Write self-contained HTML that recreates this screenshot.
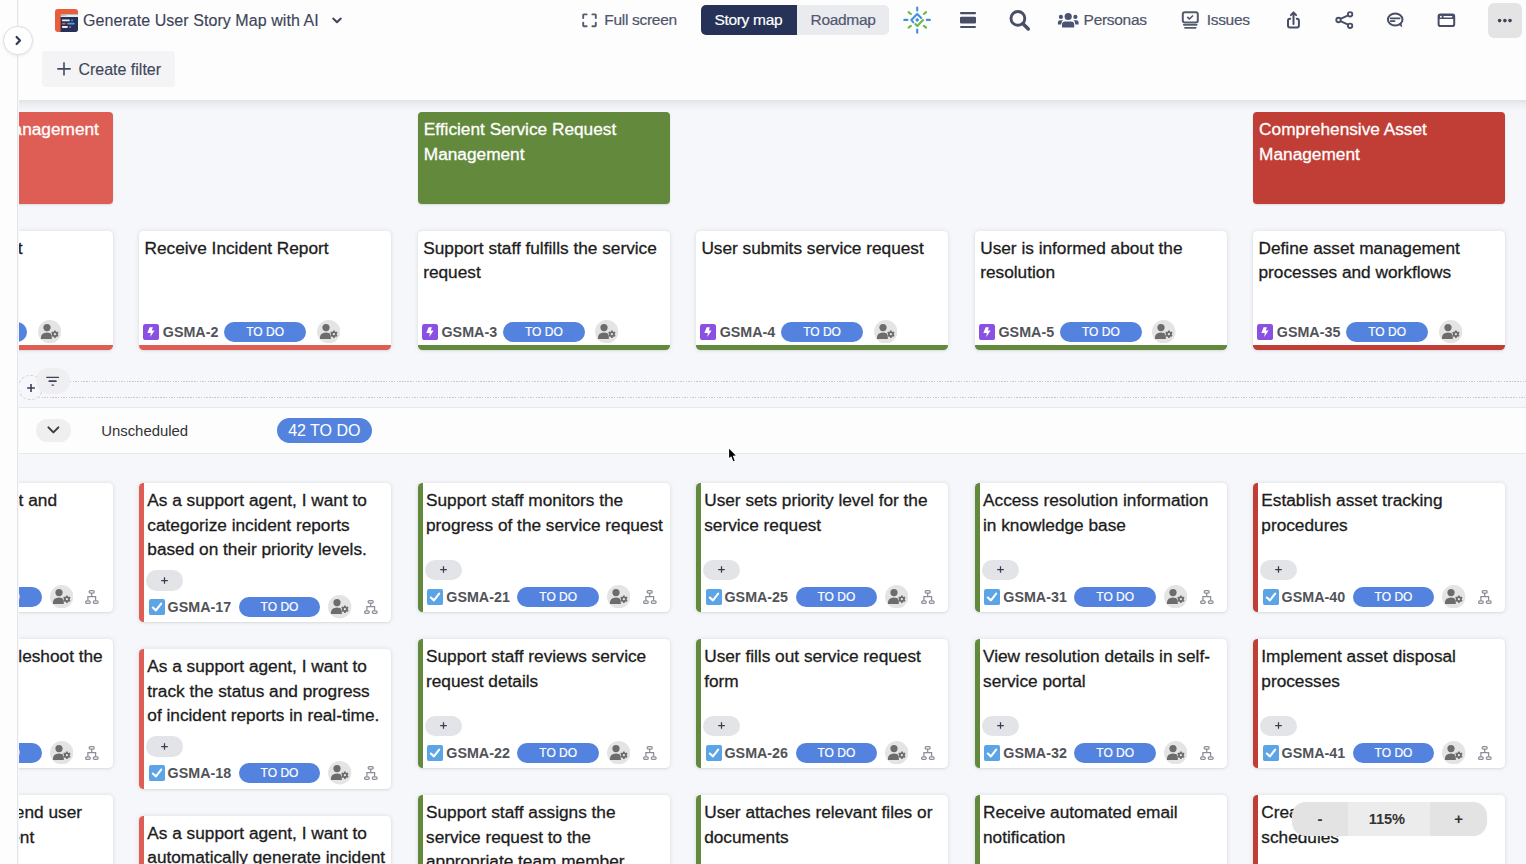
<!DOCTYPE html>
<html lang="en"><head><meta charset="utf-8"><title>Generate User Story Map with AI</title>
<style>
*{box-sizing:border-box;margin:0;padding:0}
html,body{width:1526px;height:864px;overflow:hidden}
body{position:relative;background:#f6f7fb;font-family:"Liberation Sans",Arial,Helvetica,sans-serif;color:#1c1c1c}
.ft,.st,.epic{-webkit-text-stroke:0.3px currentColor}
.todo,.tb{-webkit-text-stroke:0.2px currentColor}
.a{position:absolute}
#board{position:absolute;left:0;top:0;width:1526px;height:864px;clip-path:inset(100px 0 0 19px)}
.epic{position:absolute;top:111.5px;width:251.8px;height:92px;border-radius:4px;color:#fff;font-size:17.25px;line-height:24.6px;padding:5.8px 6px 0 5.8px;box-shadow:0 1px 2px rgba(0,0,0,.12)}
.feat{position:absolute;top:230.7px;width:251.8px;height:119px;background:#fff;border-radius:4.6px;border-bottom:5px solid;box-shadow:0 0 5px rgba(0,0,0,.11),0 1px 2px rgba(0,0,0,.06)}
.ft{position:absolute;left:5.2px;top:5.2px;right:6px;font-size:17.25px;line-height:24.5px;color:#1c1c1c}
.ff{position:absolute;left:4.1px;top:89.2px;height:23.4px;display:flex;align-items:center;white-space:nowrap}
.ff .bo{display:block;flex:none}
.gid{font-weight:bold;font-size:14.3px;color:#525359;letter-spacing:0}
.ff .gid{margin-left:3.3px}
.todo{display:inline-block;background:#5383de;color:#fff;font-size:12px;height:20px;line-height:20px;width:81.5px;text-align:center;border-radius:10px}
.ff .todo{margin-left:6px}
.ff .av{margin-left:10.8px;display:block;flex:none}
.story{position:absolute;width:251.8px;background:#fff;border-radius:4.6px;border-left:5px solid;box-shadow:0 0 5px rgba(0,0,0,.11),0 1px 2px rgba(0,0,0,.06);padding:5.2px 0 3.8px 0}
.st{position:relative;padding-left:3px;padding-right:5px;min-height:63.2px;font-size:17.25px;line-height:24.5px;color:#1c1c1c}
.plus{margin:8.3px 0 0 2.2px;width:37px;height:20.6px;border-radius:10.3px;background:#e3e4e8;position:relative}
.plus span{position:absolute;left:15.2px;top:7px;width:6.6px;height:6.6px}
.plus span:before{content:"";position:absolute;left:0;top:2.75px;width:6.6px;height:1.15px;background:#3a3e54}
.plus span:after{content:"";position:absolute;left:2.75px;top:0;width:1.15px;height:6.6px;background:#3a3e54}
.sf{margin-top:4.6px;height:23.4px;display:flex;align-items:center;white-space:nowrap;padding-left:4.4px}
.sf .cb{display:block;flex:none}
.sf .gid{margin-left:2.8px}
.sf .todo{margin-left:7.6px}
.sf .av{margin-left:7.9px;display:block;flex:none}
.sf .hi{margin-left:12.4px;display:block;flex:none}
#strip{position:absolute;left:0;top:0;width:18px;height:864px;background:#fdfdfd;border-right:1.5px solid #e4e5e9}
#hdr{position:absolute;left:19px;top:0;width:1507px;height:100px;background:#fdfdfd}
#hsh{position:absolute;left:19px;top:100px;width:1507px;height:11px;background:linear-gradient(rgba(0,0,0,.085),rgba(0,0,0,.04) 35%,rgba(0,0,0,0))}
.dot{height:1.2px;background:repeating-linear-gradient(90deg,#c6c8ce 0 1.4px,transparent 1.4px 2.7px)}
.tb{position:absolute;font-size:15.5px;letter-spacing:-0.3px;color:#4f5669;white-space:nowrap}
</style></head><body>
<div id="board">
<div class="a" style="left:0;top:407px;width:1526px;height:1px;background:#e7e8ec"></div>
<div class="a" style="left:0;top:408px;width:1526px;height:45px;background:#fdfdfe"></div>
<div class="a" style="left:0;top:453px;width:1526px;height:1px;background:#e7e8ec"></div>
<div class="a dot" style="left:70px;top:381.3px;width:1460px"></div>
<div class="a dot" style="left:39px;top:396.5px;width:1490px"></div>
<div class="a" style="left:18.3px;top:375.3px;width:25px;height:25px;border-radius:50%;border:1px dashed #cfd1d6"></div>
<svg class="a" style="left:25.8px;top:382.8px" width="10" height="10" viewBox="0 0 10 10"><path d="M5 1.1 V8.9 M1.1 5 H8.9" stroke="#3a3f58" stroke-width="1.6"/></svg>
<div class="a" style="left:36.4px;top:368.2px;width:33.8px;height:25.8px;border-radius:13px;background:#efeff1"></div>
<svg class="a" style="left:45px;top:375px" width="16" height="12" viewBox="0 0 16 12"><path d="M1.8 2.4 H13.4" stroke="#3d4259" stroke-width="1.4" stroke-linecap="round"/><path d="M4.3 6.2 H10.9" stroke="#3d4259" stroke-width="1.7" stroke-linecap="round"/><path d="M7 10.1 H8.5" stroke="#3d4259" stroke-width="1.4" stroke-linecap="round"/></svg>
<div class="a" style="left:35.8px;top:418.7px;width:35px;height:23.7px;border-radius:12px;background:#efeff0"></div>
<svg class="a" style="left:46px;top:424px" width="15" height="13" viewBox="0 0 15 13"><path d="M2.4 3.4 L7.4 8.4 L12.4 3.4" fill="none" stroke="#3a3b40" stroke-width="2" stroke-linecap="round" stroke-linejoin="round"/></svg>
<div class="a" style="left:101.2px;top:421.6px;font-size:14.9px;line-height:18px;color:#333;white-space:nowrap">Unscheduled</div>
<div class="a" style="left:276.5px;top:417.9px;width:95.6px;height:25px;border-radius:12.5px;background:#5383de;color:#fff;font-size:16px;line-height:25px;text-align:center;white-space:nowrap">42 TO DO</div>
<div class="epic" style="left:-139.3px;background:#de5e55"><span class="a" style="right:13.6px;top:5.8px;white-space:nowrap">Effective Incident Management</span></div>
<div class="epic" style="left:418px;background:#63893d">Efficient Service Request Management</div>
<div class="epic" style="left:1253.3px;background:#c13e36">Comprehensive Asset Management</div>
<div class="feat" style="left:-139.3px;border-bottom-color:#de5e55"><div class="ft"><span class="a" style="right:84px;top:0;white-space:nowrap">Report incident</span></div><div class="ff"><svg class="bo" viewBox="0 0 16 16" width="16.1" height="16.1"><rect width="16" height="16" rx="2.4" fill="#8a50e2"/><path d="M6.6 3.2 L9.8 3.2 L8.8 6.5 L11.5 6.5 L7.2 13 L7.8 9 L4.3 9 Z" fill="#fff"/></svg><span class="gid">GSMA-1</span><span class="todo">TO DO</span><svg class="av" viewBox="0 0 23.4 23.4" width="23.4" height="23.4"><circle cx="11.7" cy="11.7" r="11.7" fill="#e4e4e4"/><circle cx="9" cy="7.6" r="3.6" fill="#6c6c6c"/><path d="M2.8 19 Q2.8 12.6 9 12.6 Q12.2 12.6 13.8 14.2 L13.8 19 Z" fill="#6c6c6c"/><g transform="translate(16.9 14.3)"><circle r="3.6" fill="#e4e4e4"/><path d="M-0.9 -3.9 L0.9 -3.9 L1.1 -2.7 L2.3 -2.0 L3.4 -2.5 L4.3 -0.9 L3.4 -0.1 L3.4 1.3 L4.3 2.1 L3.4 3.6 L2.3 3.2 L1.1 3.9 L0.9 5.0 L-0.9 5.0 L-1.1 3.9 L-2.3 3.2 L-3.4 3.6 L-4.3 2.1 L-3.4 1.3 L-3.4 -0.1 L-4.3 -0.9 L-3.4 -2.5 L-2.3 -2.0 L-1.1 -2.7 Z" transform="translate(0 -0.55) scale(0.85)" fill="#6c6c6c"/><circle cy="-0.1" r="1.1" fill="#e4e4e4"/></g></svg></div></div>
<div class="feat" style="left:139.3px;border-bottom-color:#de5e55"><div class="ft">Receive Incident Report</div><div class="ff"><svg class="bo" viewBox="0 0 16 16" width="16.1" height="16.1"><rect width="16" height="16" rx="2.4" fill="#8a50e2"/><path d="M6.6 3.2 L9.8 3.2 L8.8 6.5 L11.5 6.5 L7.2 13 L7.8 9 L4.3 9 Z" fill="#fff"/></svg><span class="gid">GSMA-2</span><span class="todo">TO DO</span><svg class="av" viewBox="0 0 23.4 23.4" width="23.4" height="23.4"><circle cx="11.7" cy="11.7" r="11.7" fill="#e4e4e4"/><circle cx="9" cy="7.6" r="3.6" fill="#6c6c6c"/><path d="M2.8 19 Q2.8 12.6 9 12.6 Q12.2 12.6 13.8 14.2 L13.8 19 Z" fill="#6c6c6c"/><g transform="translate(16.9 14.3)"><circle r="3.6" fill="#e4e4e4"/><path d="M-0.9 -3.9 L0.9 -3.9 L1.1 -2.7 L2.3 -2.0 L3.4 -2.5 L4.3 -0.9 L3.4 -0.1 L3.4 1.3 L4.3 2.1 L3.4 3.6 L2.3 3.2 L1.1 3.9 L0.9 5.0 L-0.9 5.0 L-1.1 3.9 L-2.3 3.2 L-3.4 3.6 L-4.3 2.1 L-3.4 1.3 L-3.4 -0.1 L-4.3 -0.9 L-3.4 -2.5 L-2.3 -2.0 L-1.1 -2.7 Z" transform="translate(0 -0.55) scale(0.85)" fill="#6c6c6c"/><circle cy="-0.1" r="1.1" fill="#e4e4e4"/></g></svg></div></div>
<div class="feat" style="left:418px;border-bottom-color:#63893d"><div class="ft">Support staff fulfills the service request</div><div class="ff"><svg class="bo" viewBox="0 0 16 16" width="16.1" height="16.1"><rect width="16" height="16" rx="2.4" fill="#8a50e2"/><path d="M6.6 3.2 L9.8 3.2 L8.8 6.5 L11.5 6.5 L7.2 13 L7.8 9 L4.3 9 Z" fill="#fff"/></svg><span class="gid">GSMA-3</span><span class="todo">TO DO</span><svg class="av" viewBox="0 0 23.4 23.4" width="23.4" height="23.4"><circle cx="11.7" cy="11.7" r="11.7" fill="#e4e4e4"/><circle cx="9" cy="7.6" r="3.6" fill="#6c6c6c"/><path d="M2.8 19 Q2.8 12.6 9 12.6 Q12.2 12.6 13.8 14.2 L13.8 19 Z" fill="#6c6c6c"/><g transform="translate(16.9 14.3)"><circle r="3.6" fill="#e4e4e4"/><path d="M-0.9 -3.9 L0.9 -3.9 L1.1 -2.7 L2.3 -2.0 L3.4 -2.5 L4.3 -0.9 L3.4 -0.1 L3.4 1.3 L4.3 2.1 L3.4 3.6 L2.3 3.2 L1.1 3.9 L0.9 5.0 L-0.9 5.0 L-1.1 3.9 L-2.3 3.2 L-3.4 3.6 L-4.3 2.1 L-3.4 1.3 L-3.4 -0.1 L-4.3 -0.9 L-3.4 -2.5 L-2.3 -2.0 L-1.1 -2.7 Z" transform="translate(0 -0.55) scale(0.85)" fill="#6c6c6c"/><circle cy="-0.1" r="1.1" fill="#e4e4e4"/></g></svg></div></div>
<div class="feat" style="left:696.2px;border-bottom-color:#63893d"><div class="ft">User submits service request</div><div class="ff"><svg class="bo" viewBox="0 0 16 16" width="16.1" height="16.1"><rect width="16" height="16" rx="2.4" fill="#8a50e2"/><path d="M6.6 3.2 L9.8 3.2 L8.8 6.5 L11.5 6.5 L7.2 13 L7.8 9 L4.3 9 Z" fill="#fff"/></svg><span class="gid">GSMA-4</span><span class="todo">TO DO</span><svg class="av" viewBox="0 0 23.4 23.4" width="23.4" height="23.4"><circle cx="11.7" cy="11.7" r="11.7" fill="#e4e4e4"/><circle cx="9" cy="7.6" r="3.6" fill="#6c6c6c"/><path d="M2.8 19 Q2.8 12.6 9 12.6 Q12.2 12.6 13.8 14.2 L13.8 19 Z" fill="#6c6c6c"/><g transform="translate(16.9 14.3)"><circle r="3.6" fill="#e4e4e4"/><path d="M-0.9 -3.9 L0.9 -3.9 L1.1 -2.7 L2.3 -2.0 L3.4 -2.5 L4.3 -0.9 L3.4 -0.1 L3.4 1.3 L4.3 2.1 L3.4 3.6 L2.3 3.2 L1.1 3.9 L0.9 5.0 L-0.9 5.0 L-1.1 3.9 L-2.3 3.2 L-3.4 3.6 L-4.3 2.1 L-3.4 1.3 L-3.4 -0.1 L-4.3 -0.9 L-3.4 -2.5 L-2.3 -2.0 L-1.1 -2.7 Z" transform="translate(0 -0.55) scale(0.85)" fill="#6c6c6c"/><circle cy="-0.1" r="1.1" fill="#e4e4e4"/></g></svg></div></div>
<div class="feat" style="left:975px;border-bottom-color:#63893d"><div class="ft">User is informed about the resolution</div><div class="ff"><svg class="bo" viewBox="0 0 16 16" width="16.1" height="16.1"><rect width="16" height="16" rx="2.4" fill="#8a50e2"/><path d="M6.6 3.2 L9.8 3.2 L8.8 6.5 L11.5 6.5 L7.2 13 L7.8 9 L4.3 9 Z" fill="#fff"/></svg><span class="gid">GSMA-5</span><span class="todo">TO DO</span><svg class="av" viewBox="0 0 23.4 23.4" width="23.4" height="23.4"><circle cx="11.7" cy="11.7" r="11.7" fill="#e4e4e4"/><circle cx="9" cy="7.6" r="3.6" fill="#6c6c6c"/><path d="M2.8 19 Q2.8 12.6 9 12.6 Q12.2 12.6 13.8 14.2 L13.8 19 Z" fill="#6c6c6c"/><g transform="translate(16.9 14.3)"><circle r="3.6" fill="#e4e4e4"/><path d="M-0.9 -3.9 L0.9 -3.9 L1.1 -2.7 L2.3 -2.0 L3.4 -2.5 L4.3 -0.9 L3.4 -0.1 L3.4 1.3 L4.3 2.1 L3.4 3.6 L2.3 3.2 L1.1 3.9 L0.9 5.0 L-0.9 5.0 L-1.1 3.9 L-2.3 3.2 L-3.4 3.6 L-4.3 2.1 L-3.4 1.3 L-3.4 -0.1 L-4.3 -0.9 L-3.4 -2.5 L-2.3 -2.0 L-1.1 -2.7 Z" transform="translate(0 -0.55) scale(0.85)" fill="#6c6c6c"/><circle cy="-0.1" r="1.1" fill="#e4e4e4"/></g></svg></div></div>
<div class="feat" style="left:1253.3px;border-bottom-color:#c13e36"><div class="ft">Define asset management processes and workflows</div><div class="ff"><svg class="bo" viewBox="0 0 16 16" width="16.1" height="16.1"><rect width="16" height="16" rx="2.4" fill="#8a50e2"/><path d="M6.6 3.2 L9.8 3.2 L8.8 6.5 L11.5 6.5 L7.2 13 L7.8 9 L4.3 9 Z" fill="#fff"/></svg><span class="gid">GSMA-35</span><span class="todo">TO DO</span><svg class="av" viewBox="0 0 23.4 23.4" width="23.4" height="23.4"><circle cx="11.7" cy="11.7" r="11.7" fill="#e4e4e4"/><circle cx="9" cy="7.6" r="3.6" fill="#6c6c6c"/><path d="M2.8 19 Q2.8 12.6 9 12.6 Q12.2 12.6 13.8 14.2 L13.8 19 Z" fill="#6c6c6c"/><g transform="translate(16.9 14.3)"><circle r="3.6" fill="#e4e4e4"/><path d="M-0.9 -3.9 L0.9 -3.9 L1.1 -2.7 L2.3 -2.0 L3.4 -2.5 L4.3 -0.9 L3.4 -0.1 L3.4 1.3 L4.3 2.1 L3.4 3.6 L2.3 3.2 L1.1 3.9 L0.9 5.0 L-0.9 5.0 L-1.1 3.9 L-2.3 3.2 L-3.4 3.6 L-4.3 2.1 L-3.4 1.3 L-3.4 -0.1 L-4.3 -0.9 L-3.4 -2.5 L-2.3 -2.0 L-1.1 -2.7 Z" transform="translate(0 -0.55) scale(0.85)" fill="#6c6c6c"/><circle cy="-0.1" r="1.1" fill="#e4e4e4"/></g></svg></div></div>
<div class="story" style="left:-139.3px;top:483.0px;border-left-color:#de5e55"><div class="st"><span class="a" style="right:55.5px;top:0;white-space:nowrap">Submit incident report and</span></div><div class="plus"><svg class="a" style="left:14.6px;top:6.8px" width="7" height="7" viewBox="0 0 7 7"><path d="M3.5 0.2 V6.8 M0.2 3.5 H6.8" stroke="#383c52" stroke-width="1.25"/></svg></div><div class="sf"><svg class="cb" viewBox="0 0 16 16" width="16.1" height="16.1"><rect width="16" height="16" rx="2.2" fill="#5ba4e6"/><path d="M3.8 8.5 L6.9 11.3 L12.1 4.6" fill="none" stroke="#fff" stroke-width="2.1" stroke-linecap="round" stroke-linejoin="round"/></svg><span class="gid">GSMA-14</span><span class="todo">TO DO</span><svg class="av" viewBox="0 0 23.4 23.4" width="23.4" height="23.4"><circle cx="11.7" cy="11.7" r="11.7" fill="#e4e4e4"/><circle cx="9" cy="7.6" r="3.6" fill="#6c6c6c"/><path d="M2.8 19 Q2.8 12.6 9 12.6 Q12.2 12.6 13.8 14.2 L13.8 19 Z" fill="#6c6c6c"/><g transform="translate(16.9 14.3)"><circle r="3.6" fill="#e4e4e4"/><path d="M-0.9 -3.9 L0.9 -3.9 L1.1 -2.7 L2.3 -2.0 L3.4 -2.5 L4.3 -0.9 L3.4 -0.1 L3.4 1.3 L4.3 2.1 L3.4 3.6 L2.3 3.2 L1.1 3.9 L0.9 5.0 L-0.9 5.0 L-1.1 3.9 L-2.3 3.2 L-3.4 3.6 L-4.3 2.1 L-3.4 1.3 L-3.4 -0.1 L-4.3 -0.9 L-3.4 -2.5 L-2.3 -2.0 L-1.1 -2.7 Z" transform="translate(0 -0.55) scale(0.85)" fill="#6c6c6c"/><circle cy="-0.1" r="1.1" fill="#e4e4e4"/></g></svg><svg class="hi" viewBox="0 0 14 14" width="14" height="14"><g fill="none" stroke="#8b8e98" stroke-width="1.25"><rect x="4.2" y="0.65" width="5" height="2.4" rx="1.1"/><path d="M6.7 3.05 V6.6 M2.9 10.6 V6.6 H10.6 V10.6"/><rect x="0.65" y="10.95" width="4.6" height="2.4" rx="1.1"/><rect x="8.3" y="10.95" width="4.8" height="2.4" rx="1.1"/></g></svg></div></div>
<div class="story" style="left:-139.3px;top:639.0px;border-left-color:#de5e55"><div class="st"><span class="a" style="right:9.8px;top:0;white-space:nowrap">Help user troubleshoot the</span></div><div class="plus"><svg class="a" style="left:14.6px;top:6.8px" width="7" height="7" viewBox="0 0 7 7"><path d="M3.5 0.2 V6.8 M0.2 3.5 H6.8" stroke="#383c52" stroke-width="1.25"/></svg></div><div class="sf"><svg class="cb" viewBox="0 0 16 16" width="16.1" height="16.1"><rect width="16" height="16" rx="2.2" fill="#5ba4e6"/><path d="M3.8 8.5 L6.9 11.3 L12.1 4.6" fill="none" stroke="#fff" stroke-width="2.1" stroke-linecap="round" stroke-linejoin="round"/></svg><span class="gid">GSMA-15</span><span class="todo">TO DO</span><svg class="av" viewBox="0 0 23.4 23.4" width="23.4" height="23.4"><circle cx="11.7" cy="11.7" r="11.7" fill="#e4e4e4"/><circle cx="9" cy="7.6" r="3.6" fill="#6c6c6c"/><path d="M2.8 19 Q2.8 12.6 9 12.6 Q12.2 12.6 13.8 14.2 L13.8 19 Z" fill="#6c6c6c"/><g transform="translate(16.9 14.3)"><circle r="3.6" fill="#e4e4e4"/><path d="M-0.9 -3.9 L0.9 -3.9 L1.1 -2.7 L2.3 -2.0 L3.4 -2.5 L4.3 -0.9 L3.4 -0.1 L3.4 1.3 L4.3 2.1 L3.4 3.6 L2.3 3.2 L1.1 3.9 L0.9 5.0 L-0.9 5.0 L-1.1 3.9 L-2.3 3.2 L-3.4 3.6 L-4.3 2.1 L-3.4 1.3 L-3.4 -0.1 L-4.3 -0.9 L-3.4 -2.5 L-2.3 -2.0 L-1.1 -2.7 Z" transform="translate(0 -0.55) scale(0.85)" fill="#6c6c6c"/><circle cy="-0.1" r="1.1" fill="#e4e4e4"/></g></svg><svg class="hi" viewBox="0 0 14 14" width="14" height="14"><g fill="none" stroke="#8b8e98" stroke-width="1.25"><rect x="4.2" y="0.65" width="5" height="2.4" rx="1.1"/><path d="M6.7 3.05 V6.6 M2.9 10.6 V6.6 H10.6 V10.6"/><rect x="0.65" y="10.95" width="4.6" height="2.4" rx="1.1"/><rect x="8.3" y="10.95" width="4.8" height="2.4" rx="1.1"/></g></svg></div></div>
<div class="story" style="left:-139.3px;top:795.0px;border-left-color:#de5e55"><div class="st"><span class="a" style="right:30.5px;top:0;white-space:nowrap">Escalate issue to end user</span><span class="a" style="right:78.3px;top:24.5px;white-space:nowrap">Notify the department</span></div><div class="plus"><svg class="a" style="left:14.6px;top:6.8px" width="7" height="7" viewBox="0 0 7 7"><path d="M3.5 0.2 V6.8 M0.2 3.5 H6.8" stroke="#383c52" stroke-width="1.25"/></svg></div><div class="sf"><svg class="cb" viewBox="0 0 16 16" width="16.1" height="16.1"><rect width="16" height="16" rx="2.2" fill="#5ba4e6"/><path d="M3.8 8.5 L6.9 11.3 L12.1 4.6" fill="none" stroke="#fff" stroke-width="2.1" stroke-linecap="round" stroke-linejoin="round"/></svg><span class="gid">GSMA-16</span><span class="todo">TO DO</span><svg class="av" viewBox="0 0 23.4 23.4" width="23.4" height="23.4"><circle cx="11.7" cy="11.7" r="11.7" fill="#e4e4e4"/><circle cx="9" cy="7.6" r="3.6" fill="#6c6c6c"/><path d="M2.8 19 Q2.8 12.6 9 12.6 Q12.2 12.6 13.8 14.2 L13.8 19 Z" fill="#6c6c6c"/><g transform="translate(16.9 14.3)"><circle r="3.6" fill="#e4e4e4"/><path d="M-0.9 -3.9 L0.9 -3.9 L1.1 -2.7 L2.3 -2.0 L3.4 -2.5 L4.3 -0.9 L3.4 -0.1 L3.4 1.3 L4.3 2.1 L3.4 3.6 L2.3 3.2 L1.1 3.9 L0.9 5.0 L-0.9 5.0 L-1.1 3.9 L-2.3 3.2 L-3.4 3.6 L-4.3 2.1 L-3.4 1.3 L-3.4 -0.1 L-4.3 -0.9 L-3.4 -2.5 L-2.3 -2.0 L-1.1 -2.7 Z" transform="translate(0 -0.55) scale(0.85)" fill="#6c6c6c"/><circle cy="-0.1" r="1.1" fill="#e4e4e4"/></g></svg><svg class="hi" viewBox="0 0 14 14" width="14" height="14"><g fill="none" stroke="#8b8e98" stroke-width="1.25"><rect x="4.2" y="0.65" width="5" height="2.4" rx="1.1"/><path d="M6.7 3.05 V6.6 M2.9 10.6 V6.6 H10.6 V10.6"/><rect x="0.65" y="10.95" width="4.6" height="2.4" rx="1.1"/><rect x="8.3" y="10.95" width="4.8" height="2.4" rx="1.1"/></g></svg></div></div>
<div class="story" style="left:139.3px;top:483.0px;border-left-color:#de5e55"><div class="st">As a support agent, I want to categorize incident reports based on their priority levels.</div><div class="plus"><svg class="a" style="left:14.6px;top:6.8px" width="7" height="7" viewBox="0 0 7 7"><path d="M3.5 0.2 V6.8 M0.2 3.5 H6.8" stroke="#383c52" stroke-width="1.25"/></svg></div><div class="sf"><svg class="cb" viewBox="0 0 16 16" width="16.1" height="16.1"><rect width="16" height="16" rx="2.2" fill="#5ba4e6"/><path d="M3.8 8.5 L6.9 11.3 L12.1 4.6" fill="none" stroke="#fff" stroke-width="2.1" stroke-linecap="round" stroke-linejoin="round"/></svg><span class="gid">GSMA-17</span><span class="todo">TO DO</span><svg class="av" viewBox="0 0 23.4 23.4" width="23.4" height="23.4"><circle cx="11.7" cy="11.7" r="11.7" fill="#e4e4e4"/><circle cx="9" cy="7.6" r="3.6" fill="#6c6c6c"/><path d="M2.8 19 Q2.8 12.6 9 12.6 Q12.2 12.6 13.8 14.2 L13.8 19 Z" fill="#6c6c6c"/><g transform="translate(16.9 14.3)"><circle r="3.6" fill="#e4e4e4"/><path d="M-0.9 -3.9 L0.9 -3.9 L1.1 -2.7 L2.3 -2.0 L3.4 -2.5 L4.3 -0.9 L3.4 -0.1 L3.4 1.3 L4.3 2.1 L3.4 3.6 L2.3 3.2 L1.1 3.9 L0.9 5.0 L-0.9 5.0 L-1.1 3.9 L-2.3 3.2 L-3.4 3.6 L-4.3 2.1 L-3.4 1.3 L-3.4 -0.1 L-4.3 -0.9 L-3.4 -2.5 L-2.3 -2.0 L-1.1 -2.7 Z" transform="translate(0 -0.55) scale(0.85)" fill="#6c6c6c"/><circle cy="-0.1" r="1.1" fill="#e4e4e4"/></g></svg><svg class="hi" viewBox="0 0 14 14" width="14" height="14"><g fill="none" stroke="#8b8e98" stroke-width="1.25"><rect x="4.2" y="0.65" width="5" height="2.4" rx="1.1"/><path d="M6.7 3.05 V6.6 M2.9 10.6 V6.6 H10.6 V10.6"/><rect x="0.65" y="10.95" width="4.6" height="2.4" rx="1.1"/><rect x="8.3" y="10.95" width="4.8" height="2.4" rx="1.1"/></g></svg></div></div>
<div class="story" style="left:139.3px;top:649.3px;border-left-color:#de5e55"><div class="st">As a support agent, I want to track the status and progress of incident reports in real-time.</div><div class="plus"><svg class="a" style="left:14.6px;top:6.8px" width="7" height="7" viewBox="0 0 7 7"><path d="M3.5 0.2 V6.8 M0.2 3.5 H6.8" stroke="#383c52" stroke-width="1.25"/></svg></div><div class="sf"><svg class="cb" viewBox="0 0 16 16" width="16.1" height="16.1"><rect width="16" height="16" rx="2.2" fill="#5ba4e6"/><path d="M3.8 8.5 L6.9 11.3 L12.1 4.6" fill="none" stroke="#fff" stroke-width="2.1" stroke-linecap="round" stroke-linejoin="round"/></svg><span class="gid">GSMA-18</span><span class="todo">TO DO</span><svg class="av" viewBox="0 0 23.4 23.4" width="23.4" height="23.4"><circle cx="11.7" cy="11.7" r="11.7" fill="#e4e4e4"/><circle cx="9" cy="7.6" r="3.6" fill="#6c6c6c"/><path d="M2.8 19 Q2.8 12.6 9 12.6 Q12.2 12.6 13.8 14.2 L13.8 19 Z" fill="#6c6c6c"/><g transform="translate(16.9 14.3)"><circle r="3.6" fill="#e4e4e4"/><path d="M-0.9 -3.9 L0.9 -3.9 L1.1 -2.7 L2.3 -2.0 L3.4 -2.5 L4.3 -0.9 L3.4 -0.1 L3.4 1.3 L4.3 2.1 L3.4 3.6 L2.3 3.2 L1.1 3.9 L0.9 5.0 L-0.9 5.0 L-1.1 3.9 L-2.3 3.2 L-3.4 3.6 L-4.3 2.1 L-3.4 1.3 L-3.4 -0.1 L-4.3 -0.9 L-3.4 -2.5 L-2.3 -2.0 L-1.1 -2.7 Z" transform="translate(0 -0.55) scale(0.85)" fill="#6c6c6c"/><circle cy="-0.1" r="1.1" fill="#e4e4e4"/></g></svg><svg class="hi" viewBox="0 0 14 14" width="14" height="14"><g fill="none" stroke="#8b8e98" stroke-width="1.25"><rect x="4.2" y="0.65" width="5" height="2.4" rx="1.1"/><path d="M6.7 3.05 V6.6 M2.9 10.6 V6.6 H10.6 V10.6"/><rect x="0.65" y="10.95" width="4.6" height="2.4" rx="1.1"/><rect x="8.3" y="10.95" width="4.8" height="2.4" rx="1.1"/></g></svg></div></div>
<div class="story" style="left:139.3px;top:815.5999999999999px;border-left-color:#de5e55"><div class="st">As a support agent, I want to automatically generate incident reports for recurring issues.</div><div class="plus"><svg class="a" style="left:14.6px;top:6.8px" width="7" height="7" viewBox="0 0 7 7"><path d="M3.5 0.2 V6.8 M0.2 3.5 H6.8" stroke="#383c52" stroke-width="1.25"/></svg></div><div class="sf"><svg class="cb" viewBox="0 0 16 16" width="16.1" height="16.1"><rect width="16" height="16" rx="2.2" fill="#5ba4e6"/><path d="M3.8 8.5 L6.9 11.3 L12.1 4.6" fill="none" stroke="#fff" stroke-width="2.1" stroke-linecap="round" stroke-linejoin="round"/></svg><span class="gid">GSMA-19</span><span class="todo">TO DO</span><svg class="av" viewBox="0 0 23.4 23.4" width="23.4" height="23.4"><circle cx="11.7" cy="11.7" r="11.7" fill="#e4e4e4"/><circle cx="9" cy="7.6" r="3.6" fill="#6c6c6c"/><path d="M2.8 19 Q2.8 12.6 9 12.6 Q12.2 12.6 13.8 14.2 L13.8 19 Z" fill="#6c6c6c"/><g transform="translate(16.9 14.3)"><circle r="3.6" fill="#e4e4e4"/><path d="M-0.9 -3.9 L0.9 -3.9 L1.1 -2.7 L2.3 -2.0 L3.4 -2.5 L4.3 -0.9 L3.4 -0.1 L3.4 1.3 L4.3 2.1 L3.4 3.6 L2.3 3.2 L1.1 3.9 L0.9 5.0 L-0.9 5.0 L-1.1 3.9 L-2.3 3.2 L-3.4 3.6 L-4.3 2.1 L-3.4 1.3 L-3.4 -0.1 L-4.3 -0.9 L-3.4 -2.5 L-2.3 -2.0 L-1.1 -2.7 Z" transform="translate(0 -0.55) scale(0.85)" fill="#6c6c6c"/><circle cy="-0.1" r="1.1" fill="#e4e4e4"/></g></svg><svg class="hi" viewBox="0 0 14 14" width="14" height="14"><g fill="none" stroke="#8b8e98" stroke-width="1.25"><rect x="4.2" y="0.65" width="5" height="2.4" rx="1.1"/><path d="M6.7 3.05 V6.6 M2.9 10.6 V6.6 H10.6 V10.6"/><rect x="0.65" y="10.95" width="4.6" height="2.4" rx="1.1"/><rect x="8.3" y="10.95" width="4.8" height="2.4" rx="1.1"/></g></svg></div></div>
<div class="story" style="left:418px;top:483.0px;border-left-color:#63893d"><div class="st">Support staff monitors the progress of the service request</div><div class="plus"><svg class="a" style="left:14.6px;top:6.8px" width="7" height="7" viewBox="0 0 7 7"><path d="M3.5 0.2 V6.8 M0.2 3.5 H6.8" stroke="#383c52" stroke-width="1.25"/></svg></div><div class="sf"><svg class="cb" viewBox="0 0 16 16" width="16.1" height="16.1"><rect width="16" height="16" rx="2.2" fill="#5ba4e6"/><path d="M3.8 8.5 L6.9 11.3 L12.1 4.6" fill="none" stroke="#fff" stroke-width="2.1" stroke-linecap="round" stroke-linejoin="round"/></svg><span class="gid">GSMA-21</span><span class="todo">TO DO</span><svg class="av" viewBox="0 0 23.4 23.4" width="23.4" height="23.4"><circle cx="11.7" cy="11.7" r="11.7" fill="#e4e4e4"/><circle cx="9" cy="7.6" r="3.6" fill="#6c6c6c"/><path d="M2.8 19 Q2.8 12.6 9 12.6 Q12.2 12.6 13.8 14.2 L13.8 19 Z" fill="#6c6c6c"/><g transform="translate(16.9 14.3)"><circle r="3.6" fill="#e4e4e4"/><path d="M-0.9 -3.9 L0.9 -3.9 L1.1 -2.7 L2.3 -2.0 L3.4 -2.5 L4.3 -0.9 L3.4 -0.1 L3.4 1.3 L4.3 2.1 L3.4 3.6 L2.3 3.2 L1.1 3.9 L0.9 5.0 L-0.9 5.0 L-1.1 3.9 L-2.3 3.2 L-3.4 3.6 L-4.3 2.1 L-3.4 1.3 L-3.4 -0.1 L-4.3 -0.9 L-3.4 -2.5 L-2.3 -2.0 L-1.1 -2.7 Z" transform="translate(0 -0.55) scale(0.85)" fill="#6c6c6c"/><circle cy="-0.1" r="1.1" fill="#e4e4e4"/></g></svg><svg class="hi" viewBox="0 0 14 14" width="14" height="14"><g fill="none" stroke="#8b8e98" stroke-width="1.25"><rect x="4.2" y="0.65" width="5" height="2.4" rx="1.1"/><path d="M6.7 3.05 V6.6 M2.9 10.6 V6.6 H10.6 V10.6"/><rect x="0.65" y="10.95" width="4.6" height="2.4" rx="1.1"/><rect x="8.3" y="10.95" width="4.8" height="2.4" rx="1.1"/></g></svg></div></div>
<div class="story" style="left:418px;top:639.0px;border-left-color:#63893d"><div class="st">Support staff reviews service request details</div><div class="plus"><svg class="a" style="left:14.6px;top:6.8px" width="7" height="7" viewBox="0 0 7 7"><path d="M3.5 0.2 V6.8 M0.2 3.5 H6.8" stroke="#383c52" stroke-width="1.25"/></svg></div><div class="sf"><svg class="cb" viewBox="0 0 16 16" width="16.1" height="16.1"><rect width="16" height="16" rx="2.2" fill="#5ba4e6"/><path d="M3.8 8.5 L6.9 11.3 L12.1 4.6" fill="none" stroke="#fff" stroke-width="2.1" stroke-linecap="round" stroke-linejoin="round"/></svg><span class="gid">GSMA-22</span><span class="todo">TO DO</span><svg class="av" viewBox="0 0 23.4 23.4" width="23.4" height="23.4"><circle cx="11.7" cy="11.7" r="11.7" fill="#e4e4e4"/><circle cx="9" cy="7.6" r="3.6" fill="#6c6c6c"/><path d="M2.8 19 Q2.8 12.6 9 12.6 Q12.2 12.6 13.8 14.2 L13.8 19 Z" fill="#6c6c6c"/><g transform="translate(16.9 14.3)"><circle r="3.6" fill="#e4e4e4"/><path d="M-0.9 -3.9 L0.9 -3.9 L1.1 -2.7 L2.3 -2.0 L3.4 -2.5 L4.3 -0.9 L3.4 -0.1 L3.4 1.3 L4.3 2.1 L3.4 3.6 L2.3 3.2 L1.1 3.9 L0.9 5.0 L-0.9 5.0 L-1.1 3.9 L-2.3 3.2 L-3.4 3.6 L-4.3 2.1 L-3.4 1.3 L-3.4 -0.1 L-4.3 -0.9 L-3.4 -2.5 L-2.3 -2.0 L-1.1 -2.7 Z" transform="translate(0 -0.55) scale(0.85)" fill="#6c6c6c"/><circle cy="-0.1" r="1.1" fill="#e4e4e4"/></g></svg><svg class="hi" viewBox="0 0 14 14" width="14" height="14"><g fill="none" stroke="#8b8e98" stroke-width="1.25"><rect x="4.2" y="0.65" width="5" height="2.4" rx="1.1"/><path d="M6.7 3.05 V6.6 M2.9 10.6 V6.6 H10.6 V10.6"/><rect x="0.65" y="10.95" width="4.6" height="2.4" rx="1.1"/><rect x="8.3" y="10.95" width="4.8" height="2.4" rx="1.1"/></g></svg></div></div>
<div class="story" style="left:418px;top:795.0px;border-left-color:#63893d"><div class="st">Support staff assigns the service request to the appropriate team member</div><div class="plus"><svg class="a" style="left:14.6px;top:6.8px" width="7" height="7" viewBox="0 0 7 7"><path d="M3.5 0.2 V6.8 M0.2 3.5 H6.8" stroke="#383c52" stroke-width="1.25"/></svg></div><div class="sf"><svg class="cb" viewBox="0 0 16 16" width="16.1" height="16.1"><rect width="16" height="16" rx="2.2" fill="#5ba4e6"/><path d="M3.8 8.5 L6.9 11.3 L12.1 4.6" fill="none" stroke="#fff" stroke-width="2.1" stroke-linecap="round" stroke-linejoin="round"/></svg><span class="gid">GSMA-23</span><span class="todo">TO DO</span><svg class="av" viewBox="0 0 23.4 23.4" width="23.4" height="23.4"><circle cx="11.7" cy="11.7" r="11.7" fill="#e4e4e4"/><circle cx="9" cy="7.6" r="3.6" fill="#6c6c6c"/><path d="M2.8 19 Q2.8 12.6 9 12.6 Q12.2 12.6 13.8 14.2 L13.8 19 Z" fill="#6c6c6c"/><g transform="translate(16.9 14.3)"><circle r="3.6" fill="#e4e4e4"/><path d="M-0.9 -3.9 L0.9 -3.9 L1.1 -2.7 L2.3 -2.0 L3.4 -2.5 L4.3 -0.9 L3.4 -0.1 L3.4 1.3 L4.3 2.1 L3.4 3.6 L2.3 3.2 L1.1 3.9 L0.9 5.0 L-0.9 5.0 L-1.1 3.9 L-2.3 3.2 L-3.4 3.6 L-4.3 2.1 L-3.4 1.3 L-3.4 -0.1 L-4.3 -0.9 L-3.4 -2.5 L-2.3 -2.0 L-1.1 -2.7 Z" transform="translate(0 -0.55) scale(0.85)" fill="#6c6c6c"/><circle cy="-0.1" r="1.1" fill="#e4e4e4"/></g></svg><svg class="hi" viewBox="0 0 14 14" width="14" height="14"><g fill="none" stroke="#8b8e98" stroke-width="1.25"><rect x="4.2" y="0.65" width="5" height="2.4" rx="1.1"/><path d="M6.7 3.05 V6.6 M2.9 10.6 V6.6 H10.6 V10.6"/><rect x="0.65" y="10.95" width="4.6" height="2.4" rx="1.1"/><rect x="8.3" y="10.95" width="4.8" height="2.4" rx="1.1"/></g></svg></div></div>
<div class="story" style="left:696.2px;top:483.0px;border-left-color:#63893d"><div class="st">User sets priority level for the service request</div><div class="plus"><svg class="a" style="left:14.6px;top:6.8px" width="7" height="7" viewBox="0 0 7 7"><path d="M3.5 0.2 V6.8 M0.2 3.5 H6.8" stroke="#383c52" stroke-width="1.25"/></svg></div><div class="sf"><svg class="cb" viewBox="0 0 16 16" width="16.1" height="16.1"><rect width="16" height="16" rx="2.2" fill="#5ba4e6"/><path d="M3.8 8.5 L6.9 11.3 L12.1 4.6" fill="none" stroke="#fff" stroke-width="2.1" stroke-linecap="round" stroke-linejoin="round"/></svg><span class="gid">GSMA-25</span><span class="todo">TO DO</span><svg class="av" viewBox="0 0 23.4 23.4" width="23.4" height="23.4"><circle cx="11.7" cy="11.7" r="11.7" fill="#e4e4e4"/><circle cx="9" cy="7.6" r="3.6" fill="#6c6c6c"/><path d="M2.8 19 Q2.8 12.6 9 12.6 Q12.2 12.6 13.8 14.2 L13.8 19 Z" fill="#6c6c6c"/><g transform="translate(16.9 14.3)"><circle r="3.6" fill="#e4e4e4"/><path d="M-0.9 -3.9 L0.9 -3.9 L1.1 -2.7 L2.3 -2.0 L3.4 -2.5 L4.3 -0.9 L3.4 -0.1 L3.4 1.3 L4.3 2.1 L3.4 3.6 L2.3 3.2 L1.1 3.9 L0.9 5.0 L-0.9 5.0 L-1.1 3.9 L-2.3 3.2 L-3.4 3.6 L-4.3 2.1 L-3.4 1.3 L-3.4 -0.1 L-4.3 -0.9 L-3.4 -2.5 L-2.3 -2.0 L-1.1 -2.7 Z" transform="translate(0 -0.55) scale(0.85)" fill="#6c6c6c"/><circle cy="-0.1" r="1.1" fill="#e4e4e4"/></g></svg><svg class="hi" viewBox="0 0 14 14" width="14" height="14"><g fill="none" stroke="#8b8e98" stroke-width="1.25"><rect x="4.2" y="0.65" width="5" height="2.4" rx="1.1"/><path d="M6.7 3.05 V6.6 M2.9 10.6 V6.6 H10.6 V10.6"/><rect x="0.65" y="10.95" width="4.6" height="2.4" rx="1.1"/><rect x="8.3" y="10.95" width="4.8" height="2.4" rx="1.1"/></g></svg></div></div>
<div class="story" style="left:696.2px;top:639.0px;border-left-color:#63893d"><div class="st">User fills out service request form</div><div class="plus"><svg class="a" style="left:14.6px;top:6.8px" width="7" height="7" viewBox="0 0 7 7"><path d="M3.5 0.2 V6.8 M0.2 3.5 H6.8" stroke="#383c52" stroke-width="1.25"/></svg></div><div class="sf"><svg class="cb" viewBox="0 0 16 16" width="16.1" height="16.1"><rect width="16" height="16" rx="2.2" fill="#5ba4e6"/><path d="M3.8 8.5 L6.9 11.3 L12.1 4.6" fill="none" stroke="#fff" stroke-width="2.1" stroke-linecap="round" stroke-linejoin="round"/></svg><span class="gid">GSMA-26</span><span class="todo">TO DO</span><svg class="av" viewBox="0 0 23.4 23.4" width="23.4" height="23.4"><circle cx="11.7" cy="11.7" r="11.7" fill="#e4e4e4"/><circle cx="9" cy="7.6" r="3.6" fill="#6c6c6c"/><path d="M2.8 19 Q2.8 12.6 9 12.6 Q12.2 12.6 13.8 14.2 L13.8 19 Z" fill="#6c6c6c"/><g transform="translate(16.9 14.3)"><circle r="3.6" fill="#e4e4e4"/><path d="M-0.9 -3.9 L0.9 -3.9 L1.1 -2.7 L2.3 -2.0 L3.4 -2.5 L4.3 -0.9 L3.4 -0.1 L3.4 1.3 L4.3 2.1 L3.4 3.6 L2.3 3.2 L1.1 3.9 L0.9 5.0 L-0.9 5.0 L-1.1 3.9 L-2.3 3.2 L-3.4 3.6 L-4.3 2.1 L-3.4 1.3 L-3.4 -0.1 L-4.3 -0.9 L-3.4 -2.5 L-2.3 -2.0 L-1.1 -2.7 Z" transform="translate(0 -0.55) scale(0.85)" fill="#6c6c6c"/><circle cy="-0.1" r="1.1" fill="#e4e4e4"/></g></svg><svg class="hi" viewBox="0 0 14 14" width="14" height="14"><g fill="none" stroke="#8b8e98" stroke-width="1.25"><rect x="4.2" y="0.65" width="5" height="2.4" rx="1.1"/><path d="M6.7 3.05 V6.6 M2.9 10.6 V6.6 H10.6 V10.6"/><rect x="0.65" y="10.95" width="4.6" height="2.4" rx="1.1"/><rect x="8.3" y="10.95" width="4.8" height="2.4" rx="1.1"/></g></svg></div></div>
<div class="story" style="left:696.2px;top:795.0px;border-left-color:#63893d"><div class="st">User attaches relevant files or documents</div><div class="plus"><svg class="a" style="left:14.6px;top:6.8px" width="7" height="7" viewBox="0 0 7 7"><path d="M3.5 0.2 V6.8 M0.2 3.5 H6.8" stroke="#383c52" stroke-width="1.25"/></svg></div><div class="sf"><svg class="cb" viewBox="0 0 16 16" width="16.1" height="16.1"><rect width="16" height="16" rx="2.2" fill="#5ba4e6"/><path d="M3.8 8.5 L6.9 11.3 L12.1 4.6" fill="none" stroke="#fff" stroke-width="2.1" stroke-linecap="round" stroke-linejoin="round"/></svg><span class="gid">GSMA-27</span><span class="todo">TO DO</span><svg class="av" viewBox="0 0 23.4 23.4" width="23.4" height="23.4"><circle cx="11.7" cy="11.7" r="11.7" fill="#e4e4e4"/><circle cx="9" cy="7.6" r="3.6" fill="#6c6c6c"/><path d="M2.8 19 Q2.8 12.6 9 12.6 Q12.2 12.6 13.8 14.2 L13.8 19 Z" fill="#6c6c6c"/><g transform="translate(16.9 14.3)"><circle r="3.6" fill="#e4e4e4"/><path d="M-0.9 -3.9 L0.9 -3.9 L1.1 -2.7 L2.3 -2.0 L3.4 -2.5 L4.3 -0.9 L3.4 -0.1 L3.4 1.3 L4.3 2.1 L3.4 3.6 L2.3 3.2 L1.1 3.9 L0.9 5.0 L-0.9 5.0 L-1.1 3.9 L-2.3 3.2 L-3.4 3.6 L-4.3 2.1 L-3.4 1.3 L-3.4 -0.1 L-4.3 -0.9 L-3.4 -2.5 L-2.3 -2.0 L-1.1 -2.7 Z" transform="translate(0 -0.55) scale(0.85)" fill="#6c6c6c"/><circle cy="-0.1" r="1.1" fill="#e4e4e4"/></g></svg><svg class="hi" viewBox="0 0 14 14" width="14" height="14"><g fill="none" stroke="#8b8e98" stroke-width="1.25"><rect x="4.2" y="0.65" width="5" height="2.4" rx="1.1"/><path d="M6.7 3.05 V6.6 M2.9 10.6 V6.6 H10.6 V10.6"/><rect x="0.65" y="10.95" width="4.6" height="2.4" rx="1.1"/><rect x="8.3" y="10.95" width="4.8" height="2.4" rx="1.1"/></g></svg></div></div>
<div class="story" style="left:975px;top:483.0px;border-left-color:#63893d"><div class="st">Access resolution information in knowledge base</div><div class="plus"><svg class="a" style="left:14.6px;top:6.8px" width="7" height="7" viewBox="0 0 7 7"><path d="M3.5 0.2 V6.8 M0.2 3.5 H6.8" stroke="#383c52" stroke-width="1.25"/></svg></div><div class="sf"><svg class="cb" viewBox="0 0 16 16" width="16.1" height="16.1"><rect width="16" height="16" rx="2.2" fill="#5ba4e6"/><path d="M3.8 8.5 L6.9 11.3 L12.1 4.6" fill="none" stroke="#fff" stroke-width="2.1" stroke-linecap="round" stroke-linejoin="round"/></svg><span class="gid">GSMA-31</span><span class="todo">TO DO</span><svg class="av" viewBox="0 0 23.4 23.4" width="23.4" height="23.4"><circle cx="11.7" cy="11.7" r="11.7" fill="#e4e4e4"/><circle cx="9" cy="7.6" r="3.6" fill="#6c6c6c"/><path d="M2.8 19 Q2.8 12.6 9 12.6 Q12.2 12.6 13.8 14.2 L13.8 19 Z" fill="#6c6c6c"/><g transform="translate(16.9 14.3)"><circle r="3.6" fill="#e4e4e4"/><path d="M-0.9 -3.9 L0.9 -3.9 L1.1 -2.7 L2.3 -2.0 L3.4 -2.5 L4.3 -0.9 L3.4 -0.1 L3.4 1.3 L4.3 2.1 L3.4 3.6 L2.3 3.2 L1.1 3.9 L0.9 5.0 L-0.9 5.0 L-1.1 3.9 L-2.3 3.2 L-3.4 3.6 L-4.3 2.1 L-3.4 1.3 L-3.4 -0.1 L-4.3 -0.9 L-3.4 -2.5 L-2.3 -2.0 L-1.1 -2.7 Z" transform="translate(0 -0.55) scale(0.85)" fill="#6c6c6c"/><circle cy="-0.1" r="1.1" fill="#e4e4e4"/></g></svg><svg class="hi" viewBox="0 0 14 14" width="14" height="14"><g fill="none" stroke="#8b8e98" stroke-width="1.25"><rect x="4.2" y="0.65" width="5" height="2.4" rx="1.1"/><path d="M6.7 3.05 V6.6 M2.9 10.6 V6.6 H10.6 V10.6"/><rect x="0.65" y="10.95" width="4.6" height="2.4" rx="1.1"/><rect x="8.3" y="10.95" width="4.8" height="2.4" rx="1.1"/></g></svg></div></div>
<div class="story" style="left:975px;top:639.0px;border-left-color:#63893d"><div class="st">View resolution details in self-service portal</div><div class="plus"><svg class="a" style="left:14.6px;top:6.8px" width="7" height="7" viewBox="0 0 7 7"><path d="M3.5 0.2 V6.8 M0.2 3.5 H6.8" stroke="#383c52" stroke-width="1.25"/></svg></div><div class="sf"><svg class="cb" viewBox="0 0 16 16" width="16.1" height="16.1"><rect width="16" height="16" rx="2.2" fill="#5ba4e6"/><path d="M3.8 8.5 L6.9 11.3 L12.1 4.6" fill="none" stroke="#fff" stroke-width="2.1" stroke-linecap="round" stroke-linejoin="round"/></svg><span class="gid">GSMA-32</span><span class="todo">TO DO</span><svg class="av" viewBox="0 0 23.4 23.4" width="23.4" height="23.4"><circle cx="11.7" cy="11.7" r="11.7" fill="#e4e4e4"/><circle cx="9" cy="7.6" r="3.6" fill="#6c6c6c"/><path d="M2.8 19 Q2.8 12.6 9 12.6 Q12.2 12.6 13.8 14.2 L13.8 19 Z" fill="#6c6c6c"/><g transform="translate(16.9 14.3)"><circle r="3.6" fill="#e4e4e4"/><path d="M-0.9 -3.9 L0.9 -3.9 L1.1 -2.7 L2.3 -2.0 L3.4 -2.5 L4.3 -0.9 L3.4 -0.1 L3.4 1.3 L4.3 2.1 L3.4 3.6 L2.3 3.2 L1.1 3.9 L0.9 5.0 L-0.9 5.0 L-1.1 3.9 L-2.3 3.2 L-3.4 3.6 L-4.3 2.1 L-3.4 1.3 L-3.4 -0.1 L-4.3 -0.9 L-3.4 -2.5 L-2.3 -2.0 L-1.1 -2.7 Z" transform="translate(0 -0.55) scale(0.85)" fill="#6c6c6c"/><circle cy="-0.1" r="1.1" fill="#e4e4e4"/></g></svg><svg class="hi" viewBox="0 0 14 14" width="14" height="14"><g fill="none" stroke="#8b8e98" stroke-width="1.25"><rect x="4.2" y="0.65" width="5" height="2.4" rx="1.1"/><path d="M6.7 3.05 V6.6 M2.9 10.6 V6.6 H10.6 V10.6"/><rect x="0.65" y="10.95" width="4.6" height="2.4" rx="1.1"/><rect x="8.3" y="10.95" width="4.8" height="2.4" rx="1.1"/></g></svg></div></div>
<div class="story" style="left:975px;top:795.0px;border-left-color:#63893d"><div class="st">Receive automated email notification</div><div class="plus"><svg class="a" style="left:14.6px;top:6.8px" width="7" height="7" viewBox="0 0 7 7"><path d="M3.5 0.2 V6.8 M0.2 3.5 H6.8" stroke="#383c52" stroke-width="1.25"/></svg></div><div class="sf"><svg class="cb" viewBox="0 0 16 16" width="16.1" height="16.1"><rect width="16" height="16" rx="2.2" fill="#5ba4e6"/><path d="M3.8 8.5 L6.9 11.3 L12.1 4.6" fill="none" stroke="#fff" stroke-width="2.1" stroke-linecap="round" stroke-linejoin="round"/></svg><span class="gid">GSMA-33</span><span class="todo">TO DO</span><svg class="av" viewBox="0 0 23.4 23.4" width="23.4" height="23.4"><circle cx="11.7" cy="11.7" r="11.7" fill="#e4e4e4"/><circle cx="9" cy="7.6" r="3.6" fill="#6c6c6c"/><path d="M2.8 19 Q2.8 12.6 9 12.6 Q12.2 12.6 13.8 14.2 L13.8 19 Z" fill="#6c6c6c"/><g transform="translate(16.9 14.3)"><circle r="3.6" fill="#e4e4e4"/><path d="M-0.9 -3.9 L0.9 -3.9 L1.1 -2.7 L2.3 -2.0 L3.4 -2.5 L4.3 -0.9 L3.4 -0.1 L3.4 1.3 L4.3 2.1 L3.4 3.6 L2.3 3.2 L1.1 3.9 L0.9 5.0 L-0.9 5.0 L-1.1 3.9 L-2.3 3.2 L-3.4 3.6 L-4.3 2.1 L-3.4 1.3 L-3.4 -0.1 L-4.3 -0.9 L-3.4 -2.5 L-2.3 -2.0 L-1.1 -2.7 Z" transform="translate(0 -0.55) scale(0.85)" fill="#6c6c6c"/><circle cy="-0.1" r="1.1" fill="#e4e4e4"/></g></svg><svg class="hi" viewBox="0 0 14 14" width="14" height="14"><g fill="none" stroke="#8b8e98" stroke-width="1.25"><rect x="4.2" y="0.65" width="5" height="2.4" rx="1.1"/><path d="M6.7 3.05 V6.6 M2.9 10.6 V6.6 H10.6 V10.6"/><rect x="0.65" y="10.95" width="4.6" height="2.4" rx="1.1"/><rect x="8.3" y="10.95" width="4.8" height="2.4" rx="1.1"/></g></svg></div></div>
<div class="story" style="left:1253.3px;top:483.0px;border-left-color:#c13e36"><div class="st">Establish asset tracking procedures</div><div class="plus"><svg class="a" style="left:14.6px;top:6.8px" width="7" height="7" viewBox="0 0 7 7"><path d="M3.5 0.2 V6.8 M0.2 3.5 H6.8" stroke="#383c52" stroke-width="1.25"/></svg></div><div class="sf"><svg class="cb" viewBox="0 0 16 16" width="16.1" height="16.1"><rect width="16" height="16" rx="2.2" fill="#5ba4e6"/><path d="M3.8 8.5 L6.9 11.3 L12.1 4.6" fill="none" stroke="#fff" stroke-width="2.1" stroke-linecap="round" stroke-linejoin="round"/></svg><span class="gid">GSMA-40</span><span class="todo">TO DO</span><svg class="av" viewBox="0 0 23.4 23.4" width="23.4" height="23.4"><circle cx="11.7" cy="11.7" r="11.7" fill="#e4e4e4"/><circle cx="9" cy="7.6" r="3.6" fill="#6c6c6c"/><path d="M2.8 19 Q2.8 12.6 9 12.6 Q12.2 12.6 13.8 14.2 L13.8 19 Z" fill="#6c6c6c"/><g transform="translate(16.9 14.3)"><circle r="3.6" fill="#e4e4e4"/><path d="M-0.9 -3.9 L0.9 -3.9 L1.1 -2.7 L2.3 -2.0 L3.4 -2.5 L4.3 -0.9 L3.4 -0.1 L3.4 1.3 L4.3 2.1 L3.4 3.6 L2.3 3.2 L1.1 3.9 L0.9 5.0 L-0.9 5.0 L-1.1 3.9 L-2.3 3.2 L-3.4 3.6 L-4.3 2.1 L-3.4 1.3 L-3.4 -0.1 L-4.3 -0.9 L-3.4 -2.5 L-2.3 -2.0 L-1.1 -2.7 Z" transform="translate(0 -0.55) scale(0.85)" fill="#6c6c6c"/><circle cy="-0.1" r="1.1" fill="#e4e4e4"/></g></svg><svg class="hi" viewBox="0 0 14 14" width="14" height="14"><g fill="none" stroke="#8b8e98" stroke-width="1.25"><rect x="4.2" y="0.65" width="5" height="2.4" rx="1.1"/><path d="M6.7 3.05 V6.6 M2.9 10.6 V6.6 H10.6 V10.6"/><rect x="0.65" y="10.95" width="4.6" height="2.4" rx="1.1"/><rect x="8.3" y="10.95" width="4.8" height="2.4" rx="1.1"/></g></svg></div></div>
<div class="story" style="left:1253.3px;top:639.0px;border-left-color:#c13e36"><div class="st">Implement asset disposal processes</div><div class="plus"><svg class="a" style="left:14.6px;top:6.8px" width="7" height="7" viewBox="0 0 7 7"><path d="M3.5 0.2 V6.8 M0.2 3.5 H6.8" stroke="#383c52" stroke-width="1.25"/></svg></div><div class="sf"><svg class="cb" viewBox="0 0 16 16" width="16.1" height="16.1"><rect width="16" height="16" rx="2.2" fill="#5ba4e6"/><path d="M3.8 8.5 L6.9 11.3 L12.1 4.6" fill="none" stroke="#fff" stroke-width="2.1" stroke-linecap="round" stroke-linejoin="round"/></svg><span class="gid">GSMA-41</span><span class="todo">TO DO</span><svg class="av" viewBox="0 0 23.4 23.4" width="23.4" height="23.4"><circle cx="11.7" cy="11.7" r="11.7" fill="#e4e4e4"/><circle cx="9" cy="7.6" r="3.6" fill="#6c6c6c"/><path d="M2.8 19 Q2.8 12.6 9 12.6 Q12.2 12.6 13.8 14.2 L13.8 19 Z" fill="#6c6c6c"/><g transform="translate(16.9 14.3)"><circle r="3.6" fill="#e4e4e4"/><path d="M-0.9 -3.9 L0.9 -3.9 L1.1 -2.7 L2.3 -2.0 L3.4 -2.5 L4.3 -0.9 L3.4 -0.1 L3.4 1.3 L4.3 2.1 L3.4 3.6 L2.3 3.2 L1.1 3.9 L0.9 5.0 L-0.9 5.0 L-1.1 3.9 L-2.3 3.2 L-3.4 3.6 L-4.3 2.1 L-3.4 1.3 L-3.4 -0.1 L-4.3 -0.9 L-3.4 -2.5 L-2.3 -2.0 L-1.1 -2.7 Z" transform="translate(0 -0.55) scale(0.85)" fill="#6c6c6c"/><circle cy="-0.1" r="1.1" fill="#e4e4e4"/></g></svg><svg class="hi" viewBox="0 0 14 14" width="14" height="14"><g fill="none" stroke="#8b8e98" stroke-width="1.25"><rect x="4.2" y="0.65" width="5" height="2.4" rx="1.1"/><path d="M6.7 3.05 V6.6 M2.9 10.6 V6.6 H10.6 V10.6"/><rect x="0.65" y="10.95" width="4.6" height="2.4" rx="1.1"/><rect x="8.3" y="10.95" width="4.8" height="2.4" rx="1.1"/></g></svg></div></div>
<div class="story" style="left:1253.3px;top:795.0px;border-left-color:#c13e36"><div class="st">Create asset maintenance schedules</div><div class="plus"><svg class="a" style="left:14.6px;top:6.8px" width="7" height="7" viewBox="0 0 7 7"><path d="M3.5 0.2 V6.8 M0.2 3.5 H6.8" stroke="#383c52" stroke-width="1.25"/></svg></div><div class="sf"><svg class="cb" viewBox="0 0 16 16" width="16.1" height="16.1"><rect width="16" height="16" rx="2.2" fill="#5ba4e6"/><path d="M3.8 8.5 L6.9 11.3 L12.1 4.6" fill="none" stroke="#fff" stroke-width="2.1" stroke-linecap="round" stroke-linejoin="round"/></svg><span class="gid">GSMA-42</span><span class="todo">TO DO</span><svg class="av" viewBox="0 0 23.4 23.4" width="23.4" height="23.4"><circle cx="11.7" cy="11.7" r="11.7" fill="#e4e4e4"/><circle cx="9" cy="7.6" r="3.6" fill="#6c6c6c"/><path d="M2.8 19 Q2.8 12.6 9 12.6 Q12.2 12.6 13.8 14.2 L13.8 19 Z" fill="#6c6c6c"/><g transform="translate(16.9 14.3)"><circle r="3.6" fill="#e4e4e4"/><path d="M-0.9 -3.9 L0.9 -3.9 L1.1 -2.7 L2.3 -2.0 L3.4 -2.5 L4.3 -0.9 L3.4 -0.1 L3.4 1.3 L4.3 2.1 L3.4 3.6 L2.3 3.2 L1.1 3.9 L0.9 5.0 L-0.9 5.0 L-1.1 3.9 L-2.3 3.2 L-3.4 3.6 L-4.3 2.1 L-3.4 1.3 L-3.4 -0.1 L-4.3 -0.9 L-3.4 -2.5 L-2.3 -2.0 L-1.1 -2.7 Z" transform="translate(0 -0.55) scale(0.85)" fill="#6c6c6c"/><circle cy="-0.1" r="1.1" fill="#e4e4e4"/></g></svg><svg class="hi" viewBox="0 0 14 14" width="14" height="14"><g fill="none" stroke="#8b8e98" stroke-width="1.25"><rect x="4.2" y="0.65" width="5" height="2.4" rx="1.1"/><path d="M6.7 3.05 V6.6 M2.9 10.6 V6.6 H10.6 V10.6"/><rect x="0.65" y="10.95" width="4.6" height="2.4" rx="1.1"/><rect x="8.3" y="10.95" width="4.8" height="2.4" rx="1.1"/></g></svg></div></div>
</div>
<div id="hdr"></div>
<div id="hsh"></div>
<div id="strip"></div>
<div class="a" style="left:3.3px;top:25.9px;width:29.5px;height:29.5px;border-radius:50%;background:#fff;border:1px solid #dedfe2;box-shadow:0 1px 3px rgba(0,0,0,.08)"></div>
<svg class="a" style="left:12.4px;top:34.2px" width="12" height="13" viewBox="0 0 12 13"><path d="M4.6 3 L8 6.5 L4.6 10" fill="none" stroke="#343b4d" stroke-width="2.2" stroke-linecap="round" stroke-linejoin="round"/></svg>
<svg class="a" style="left:55px;top:8.6px" width="23" height="23" viewBox="0 0 23 23"><rect x="0" y="0" width="23" height="23" rx="3" fill="#e95d3b"/><path d="M5.6 5.3 H23 V20 Q23 23 20 23 H5.6 Z" fill="#243158"/><rect x="5.6" y="5.3" width="17.4" height="2.7" fill="#e4eaf2"/><circle cx="6.9" cy="6.6" r=".6" fill="#e86a4a"/><circle cx="8.5" cy="6.6" r=".6" fill="#e8b04a"/><circle cx="10.1" cy="6.6" r=".6" fill="#7cb85a"/><rect x="6.9" y="10.4" width="7.9" height="1.8" rx=".8" fill="#e9ecf3"/><rect x="16.1" y="10.4" width="2.1" height="1.8" rx=".5" fill="#5b7fd8"/><rect x="6.9" y="13.7" width="3.7" height="1.8" rx=".8" fill="#e8583a"/><rect x="12.1" y="13.7" width="7.6" height="1.8" rx=".8" fill="#4aa8d8"/><rect x="6.9" y="17.1" width="6" height="1.8" rx=".8" fill="#e9ecf3"/><rect x="14" y="17.1" width="2.1" height="1.8" rx=".5" fill="#c2478a"/></svg>
<div class="a" style="left:83px;top:10.8px;font-size:16px;line-height:20px;color:#3d4459;white-space:nowrap;letter-spacing:0.06px;-webkit-text-stroke:0.15px currentColor">Generate User Story Map with AI</div>
<svg class="a" style="left:331px;top:16px" width="12" height="9" viewBox="0 0 12 9"><path d="M2.2 2.6 L6 6.2 L9.8 2.6" fill="none" stroke="#3d4459" stroke-width="2" stroke-linecap="round" stroke-linejoin="round"/></svg>
<div class="a" style="left:41.7px;top:51px;width:133.3px;height:35.8px;border-radius:4px;background:#f4f4f6"></div>
<svg class="a" style="left:56px;top:61px" width="16" height="16" viewBox="0 0 16 16"><path d="M8 1.2 V14.6 M1.3 7.9 H14.7" stroke="#434b62" stroke-width="1.6" fill="none"/></svg>
<div class="a" style="left:78.4px;top:59.8px;font-size:16px;line-height:20px;color:#3f4759;white-space:nowrap;-webkit-text-stroke:0.15px currentColor">Create filter</div>
<svg class="a" style="left:581px;top:13px" width="17" height="15" viewBox="0 0 17 15"><path d="M2.2 5 V2 Q2.2 1.4 2.8 1.4 H5.6 M11.4 1.4 H14.2 Q14.8 1.4 14.8 2 V5 M14.8 9.6 V12.6 Q14.8 13.2 14.2 13.2 H11.4 M5.6 13.2 H2.8 Q2.2 13.2 2.2 12.6 V9.6" fill="none" stroke="#555c6e" stroke-width="1.9" stroke-linecap="round"/></svg>
<div class="tb" style="left:604.3px;top:9.5px;line-height:19px">Full screen</div>
<div class="a" style="left:700.8px;top:5px;width:96px;height:30px;border-radius:5px 0 0 5px;background:#263258"></div>
<div class="a" style="left:796.8px;top:5px;width:92px;height:30px;border-radius:0 5px 5px 0;background:#e9ebef"></div>
<div class="tb" style="left:714.4px;top:9.5px;line-height:19px;color:#fff">Story map</div>
<div class="tb" style="left:810.5px;top:9.5px;line-height:19px;color:#515870">Roadmap</div>
<svg class="a" style="left:903px;top:6px" width="28" height="28" viewBox="0 0 28 28"><g stroke-linecap="round" fill="none"><g stroke="#3f8fe3" stroke-width="2.1"><path d="M14.2 1.5 V4.6 M14.2 23.6 V26.7 M1.3 13.9 H4.4 M23.8 13.9 H26.9"/></g><g stroke="#6cb84a" stroke-width="2.1"><path d="M5.6 6.2 L7.9 8 M20.8 8 L23.1 6.2 M5.6 21.6 L7.9 19.8 M20.8 19.8 L23.1 21.6"/></g><path d="M10.3 16.3 L8.3 13.9 L14.2 8 L18.2 12" stroke="#3f8fe3" stroke-width="2.1" stroke-linejoin="round"/><path d="M12.3 18 L14.3 20 L20 14.1" stroke="#6cb84a" stroke-width="2.1" stroke-linejoin="round"/></g><path d="M14.2 11.8 L16.3 13.9 L14.2 16 L12.1 13.9 Z" fill="#3f8fe3"/></svg>
<svg class="a" style="left:959px;top:11px" width="18" height="18" viewBox="0 0 18 18"><rect x="1" y="1.1" width="16" height="2.1" rx="1" fill="#474e66"/><rect x="1" y="5.8" width="16" height="6.7" rx="1.3" fill="#474e66"/><rect x="1" y="15" width="16" height="2.1" rx="1" fill="#474e66"/></svg>
<svg class="a" style="left:1008px;top:9px" width="24" height="23" viewBox="0 0 24 23"><circle cx="9.9" cy="9.4" r="6.9" fill="none" stroke="#474e66" stroke-width="2.9"/><path d="M15 14.7 L20.3 20" stroke="#474e66" stroke-width="3.4" stroke-linecap="round"/></svg>
<svg class="a" style="left:1057px;top:12px" width="23" height="17" viewBox="0 0 23 17"><g fill="#4a5370"><circle cx="11.2" cy="4.5" r="3.6"/><path d="M5 15.4 V12.8 Q5 9.6 8.2 9.6 H14 Q17.2 9.6 17.2 12.8 V15.4 Z"/><circle cx="3.9" cy="4.9" r="2.1"/><circle cx="18.4" cy="4.9" r="2.1"/><path d="M0.9 12.4 V10.6 Q0.9 8.2 3.3 8.2 H5.9 Q4.3 9.6 4.2 12.4 Z"/><path d="M21.6 12.4 V10.6 Q21.6 8.2 19.2 8.2 H16.6 Q18.2 9.6 18.3 12.4 Z"/></g></svg>
<div class="tb" style="left:1083.6px;top:9.5px;line-height:19px">Personas</div>
<svg class="a" style="left:1180px;top:10px" width="20" height="20" viewBox="0 0 20 20"><rect x="2.8" y="2.3" width="15" height="10.2" rx="2" fill="none" stroke="#555b6c" stroke-width="2"/><path d="M7.7 7.3 L9.4 9 L12.5 6" fill="none" stroke="#555b6c" stroke-width="1.7" stroke-linecap="round" stroke-linejoin="round"/><path d="M2.8 14 H17.7 L17 15.8 H3.5 Z M4 16.9 H16.7 L16 18.7 H4.7 Z" fill="#555b6c"/></svg>
<div class="tb" style="left:1206.7px;top:9.5px;line-height:19px">Issues</div>
<svg class="a" style="left:1284px;top:10px" width="18" height="20" viewBox="0 0 18 20"><path d="M6.2 8.7 H5.9 Q4 8.7 4 10.7 V15.6 Q4 17.5 5.9 17.5 H13 Q14.9 17.5 14.9 15.6 V10.7 Q14.9 8.7 13 8.7 H12.8" fill="none" stroke="#474e66" stroke-width="2" stroke-linecap="round"/><path d="M9.5 14.1 V2.4 M6.9 5.1 L9.5 2.4 L12.1 5.1" fill="none" stroke="#474e66" stroke-width="2" stroke-linecap="round" stroke-linejoin="round"/></svg>
<svg class="a" style="left:1334px;top:10px" width="21" height="20" viewBox="0 0 21 20"><g fill="none" stroke="#474e66" stroke-width="1.9"><circle cx="4.5" cy="10" r="2.2"/><circle cx="16.1" cy="4.3" r="2.2"/><circle cx="16.1" cy="15.8" r="2.2"/><path d="M6.5 8.9 L14.1 5.4 M6.5 11.1 L14.1 14.7"/></g></svg>
<svg class="a" style="left:1385px;top:10px" width="21" height="20" viewBox="0 0 21 20"><ellipse cx="10.2" cy="9.5" rx="7.3" ry="6.1" fill="none" stroke="#474e66" stroke-width="2"/><path d="M13.2 14.2 L17.4 17.6 L16.2 12.6 Z" fill="#474e66"/><path d="M5.6 8.3 H14.6 M5.6 11.1 H9.6" stroke="#474e66" stroke-width="1.7" stroke-linecap="round"/></svg>
<svg class="a" style="left:1436px;top:12px" width="20" height="16" viewBox="0 0 20 16"><rect x="2.6" y="2.6" width="15.6" height="11.4" rx="1.8" fill="none" stroke="#474e66" stroke-width="2"/><rect x="2.6" y="2.6" width="15.6" height="4.4" fill="#474e66"/><rect x="4" y="3.9" width="1.7" height="1.7" fill="#fff"/><rect x="7.3" y="3.9" width="9.1" height="1.7" rx=".8" fill="#fff"/></svg>
<div class="a" style="left:1487.5px;top:3.1px;width:34px;height:34.6px;border-radius:6px;background:#e4e4e5"></div>
<svg class="a" style="left:1495px;top:18px" width="20" height="6" viewBox="0 0 20 6"><g fill="#3d4357"><circle cx="4.6" cy="2.6" r="1.8"/><circle cx="9.9" cy="2.6" r="1.8"/><circle cx="15" cy="2.6" r="1.8"/></g></svg>
<div class="a" style="left:1291.5px;top:802px;width:195.5px;height:33.8px;border-radius:14px;overflow:hidden;background:#e3e3e3;box-shadow:0 0 2px rgba(0,0,0,.04)"><div class="a" style="left:56.8px;top:0;width:81.9px;height:33.8px;background:#ececec"></div></div>
<div class="a" style="left:1291.5px;top:802px;width:56.8px;height:33.8px;line-height:33.8px;text-align:center;font-size:15px;font-weight:bold;color:#333">-</div>
<div class="a" style="left:1345.8px;top:802.6px;width:81.9px;height:33.8px;line-height:33.8px;text-align:center;font-size:14.6px;font-weight:bold;color:#333;letter-spacing:-0.1px">115%</div>
<div class="a" style="left:1430.2px;top:802px;width:56.8px;height:33.8px;line-height:33.8px;text-align:center;font-size:15px;font-weight:bold;color:#333">+</div>
<svg class="a" style="left:727px;top:447px" width="14" height="18" viewBox="0 0 14 18"><path d="M2.1 1.7 L2.1 11.1 L4.3 9.2 L6.3 14.2 L7.7 13.7 L5.8 8.8 L8.8 8.5 Z" fill="#000" stroke="#fff" stroke-width="1.8" stroke-linejoin="round" paint-order="stroke"/></svg>
</body></html>
